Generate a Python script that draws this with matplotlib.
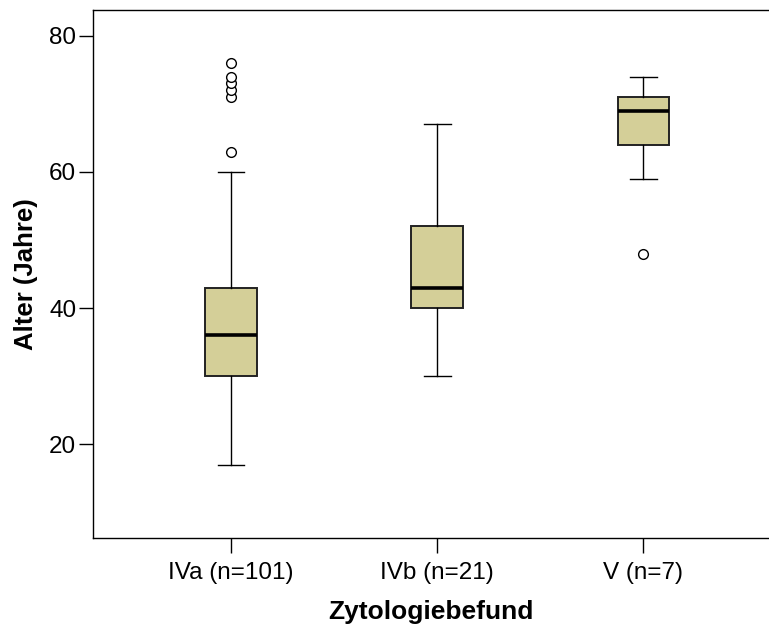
import matplotlib
matplotlib.use("Agg")
import matplotlib.pyplot as plt

plt.rcParams['font.family'] = ['Liberation Sans', 'DejaVu Sans']

# data
groups = ['IVa (n=101)', 'IVb (n=21)', 'V (n=7)']
whislo = [17, 30, 59]
q1 = [30, 40, 64]
med = [36, 43, 69]
q3 = [43, 52, 71]
whishi = [60, 67, 74]
outliers = [[63, 71, 72, 73, 74, 76], [], [48]]

stats = []
for i in range(len(groups)):
    stats.append(dict(label=groups[i], whislo=whislo[i], q1=q1[i], med=med[i],
                      q3=q3[i], whishi=whishi[i], fliers=outliers[i]))

fig = plt.figure(figsize=(7.69, 6.26), dpi=100)
ax = fig.add_axes([93 / 769, 1 - 538 / 626, 1 - 93 / 769, 528 / 626])

ax.bxp(stats, positions=[1, 2, 3], widths=0.25, patch_artist=True,
       boxprops=dict(facecolor='#D4CF98', edgecolor='#222222', linewidth=1.4),
       medianprops=dict(color='black', linewidth=2.6),
       whiskerprops=dict(color='black', linewidth=1.0),
       capprops=dict(color='black', linewidth=1.0),
       capwidths=0.13,
       flierprops=dict(marker='o', markersize=7, markerfacecolor='white',
                       markeredgecolor='black', markeredgewidth=1.0))

ax.set_xlim(0.33, 3.61)
ax.set_ylim(6.2, 83.8)
ax.set_yticks([20, 40, 60, 80])
ax.spines['right'].set_visible(False)
for s in ['left', 'top', 'bottom']:
    ax.spines[s].set_linewidth(1.0)
ax.tick_params(axis='y', labelsize=17.5, length=10, width=1.0, pad=2)
ax.tick_params(axis='x', labelsize=17.5, length=11, width=1.0, pad=6)

ax.set_xlabel('Zytologiebefund', fontsize=19, fontweight='bold', labelpad=12)
ax.set_ylabel('Alter (Jahre)', fontsize=18.5, fontweight='bold', labelpad=8)

fig.savefig('out.png', dpi=100)
